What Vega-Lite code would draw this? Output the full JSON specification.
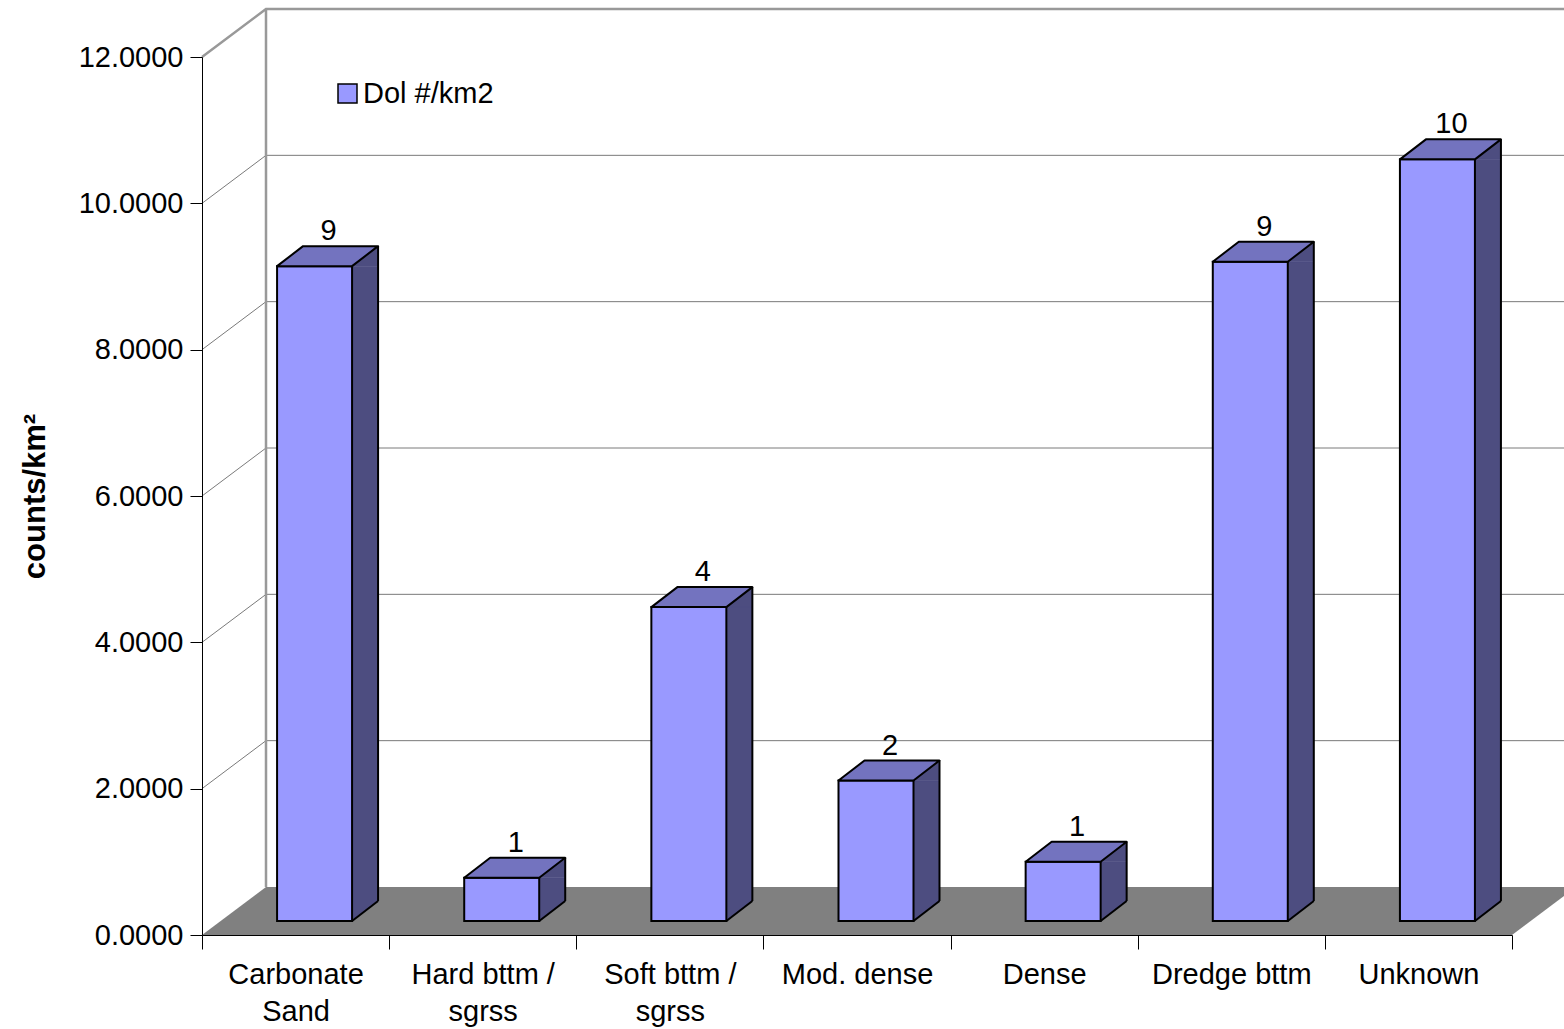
{
  "$schema": "https://vega.github.io/schema/vega-lite/v6.json",
  "width": 1310,
  "height": 878,
  "autosize": {"type": "none"},
  "padding": {"left": 202, "top": 57, "right": 52, "bottom": 94},
  "background": "white",
  "config": {
    "view": {"stroke": null},
    "font": "Liberation Sans",
    "text": {"font": "Liberation Sans"}
  },
  "data": {
    "values": [
      {"habitat": "Carbonate Sand", "density": 8.95},
      {"habitat": "Hard bttm / sgrss", "density": 0.59},
      {"habitat": "Soft bttm / sgrss", "density": 4.29},
      {"habitat": "Mod. dense", "density": 1.92},
      {"habitat": "Dense", "density": 0.81},
      {"habitat": "Dredge bttm", "density": 9.01},
      {"habitat": "Unknown", "density": 10.41}
    ]
  },
  "encoding": {
    "x": {
      "field": "habitat",
      "type": "nominal",
      "sort": null,
      "scale": {"paddingInner": 0, "paddingOuter": 0},
      "axis": {
        "title": null,
        "labelAngle": 0,
        "labelFont": "Liberation Sans",
        "labelFontSize": 29,
        "labelColor": "black",
        "labelLineHeight": 37,
        "labelBaseline": "top",
        "labelPadding": 11,
        "tickSize": 14,
        "tickColor": "black",
        "tickBand": "extent",
        "domainColor": "black",
        "zindex": 1,
        "labelExpr": "datum.value == 'Carbonate Sand' ? ['Carbonate', 'Sand'] : datum.value == 'Hard bttm / sgrss' ? ['Hard bttm /', 'sgrss'] : datum.value == 'Soft bttm / sgrss' ? ['Soft bttm /', 'sgrss'] : datum.label"
      }
    },
    "y": {
      "field": "density",
      "type": "quantitative",
      "scale": {"domain": [0, 12], "nice": false},
      "axis": {
        "title": "counts/km²",
        "values": [0, 2, 4, 6, 8, 10, 12],
        "format": ".4f",
        "grid": false,
        "labelFont": "Liberation Sans",
        "labelFontSize": 29,
        "labelColor": "black",
        "labelPadding": 7,
        "tickSize": 12,
        "tickColor": "black",
        "domainColor": "black",
        "titleFont": "Liberation Sans",
        "titleFontSize": 31,
        "titleFontWeight": "bold",
        "titleColor": "black",
        "titlePadding": 27,
        "zindex": 1
      }
    }
  },
  "layer": [
    {
      "description": "back-wall gridlines with their diagonal links to the front axis",
      "data": {"values": [{"v": 2}, {"v": 4}, {"v": 6}, {"v": 8}, {"v": 10}]},
      "mark": {"type": "point", "shape": "M-93.571,0L-29.571,-48L1290,-48", "size": 4, "filled": false, "stroke": "#7a7a7a", "strokeWidth": 1, "opacity": 1},
      "encoding": {"x": {"datum": "Carbonate Sand"}, "y": {"field": "v", "type": "quantitative"}}
    },
    {
      "description": "top edge of the wall box",
      "data": {"values": [{"v": 12}]},
      "mark": {"type": "point", "shape": "M-93.571,0L-29.571,-48L1290,-48", "size": 4, "filled": false, "stroke": "#999999", "strokeWidth": 2.5, "opacity": 1},
      "encoding": {"x": {"datum": "Carbonate Sand"}, "y": {"field": "v", "type": "quantitative"}}
    },
    {
      "description": "back corner of the wall box",
      "data": {"values": [{"v": 0}]},
      "mark": {"type": "point", "shape": "M-29.571,-48L-29.571,-926", "size": 4, "filled": false, "stroke": "#999999", "strokeWidth": 2.5, "opacity": 1},
      "encoding": {"x": {"datum": "Carbonate Sand"}, "y": {"field": "v", "type": "quantitative"}}
    },
    {
      "description": "grey floor",
      "data": {"values": [{"v": 0}]},
      "mark": {"type": "point", "shape": "M-93.571,0L1216.429,0L1280.429,-48L-29.571,-48Z", "size": 4, "filled": true, "fill": "#808080", "strokeWidth": 0, "opacity": 1},
      "encoding": {"x": {"datum": "Carbonate Sand"}, "y": {"field": "v", "type": "quantitative"}}
    },
    {
      "description": "side face, middle part",
      "mark": {"type": "bar", "width": 26, "xOffset": 69.5, "x2Offset": 69.5, "yOffset": -14, "y2Offset": -34, "fill": "#4D4D80", "stroke": "#4D4D80", "strokeWidth": 0.5},
      "encoding": {"y2": {"datum": 0}}
    },
    {
      "description": "side face, upper corner",
      "mark": {"type": "point", "shape": "M56.5,-14L82.5,-34L82.5,-14Z", "size": 4, "filled": true, "fill": "#4D4D80", "stroke": "#4D4D80", "strokeWidth": 0.5, "opacity": 1}
    },
    {
      "description": "side face, lower corner",
      "mark": {"type": "point", "shape": "M56.5,-14L56.5,-34L82.5,-34Z", "size": 4, "filled": true, "fill": "#4D4D80", "stroke": "#4D4D80", "strokeWidth": 0.5, "opacity": 1},
      "encoding": {"y": {"datum": 0}}
    },
    {
      "description": "front face of each bar",
      "mark": {"type": "bar", "width": 75, "xOffset": 19, "x2Offset": 19, "yOffset": -14, "y2Offset": -14, "stroke": "black", "strokeWidth": 2},
      "encoding": {
        "y2": {"datum": 0},
        "color": {
          "datum": "Dol #/km2",
          "type": "nominal",
          "scale": {"range": ["#9999FF"]},
          "legend": {
            "orient": "none",
            "legendX": 131,
            "legendY": 22,
            "title": null,
            "padding": 0,
            "symbolType": "square",
            "symbolSize": 361,
            "symbolStrokeColor": "black",
            "symbolStrokeWidth": 1.5,
            "symbolOpacity": 1,
            "labelFont": "Liberation Sans",
            "labelFontSize": 29,
            "labelColor": "black",
            "labelOffset": 1
          }
        }
      }
    },
    {
      "description": "top face of each bar",
      "mark": {"type": "point", "shape": "M-18.5,-14L56.5,-14L82.5,-34L7.5,-34Z", "size": 4, "filled": true, "fill": "#7373BF", "stroke": "black", "strokeWidth": 2, "strokeJoin": "round", "opacity": 1}
    },
    {
      "description": "back vertical edge of the side face",
      "mark": {"type": "rule", "xOffset": 82.5, "x2Offset": 82.5, "yOffset": -34, "y2Offset": -34, "stroke": "black", "strokeWidth": 2},
      "encoding": {"y2": {"datum": 0}}
    },
    {
      "description": "bottom slanted edge of the side face",
      "mark": {"type": "point", "shape": "M56.5,-14L82.5,-34", "size": 4, "filled": false, "stroke": "black", "strokeWidth": 2, "opacity": 1},
      "encoding": {"y": {"datum": 0}}
    },
    {
      "description": "value labels",
      "mark": {"type": "text", "xOffset": 33, "yOffset": -40, "baseline": "alphabetic", "align": "center", "fontSize": 29, "color": "black"},
      "encoding": {"text": {"field": "density", "type": "quantitative", "format": ".0f"}}
    }
  ]
}
